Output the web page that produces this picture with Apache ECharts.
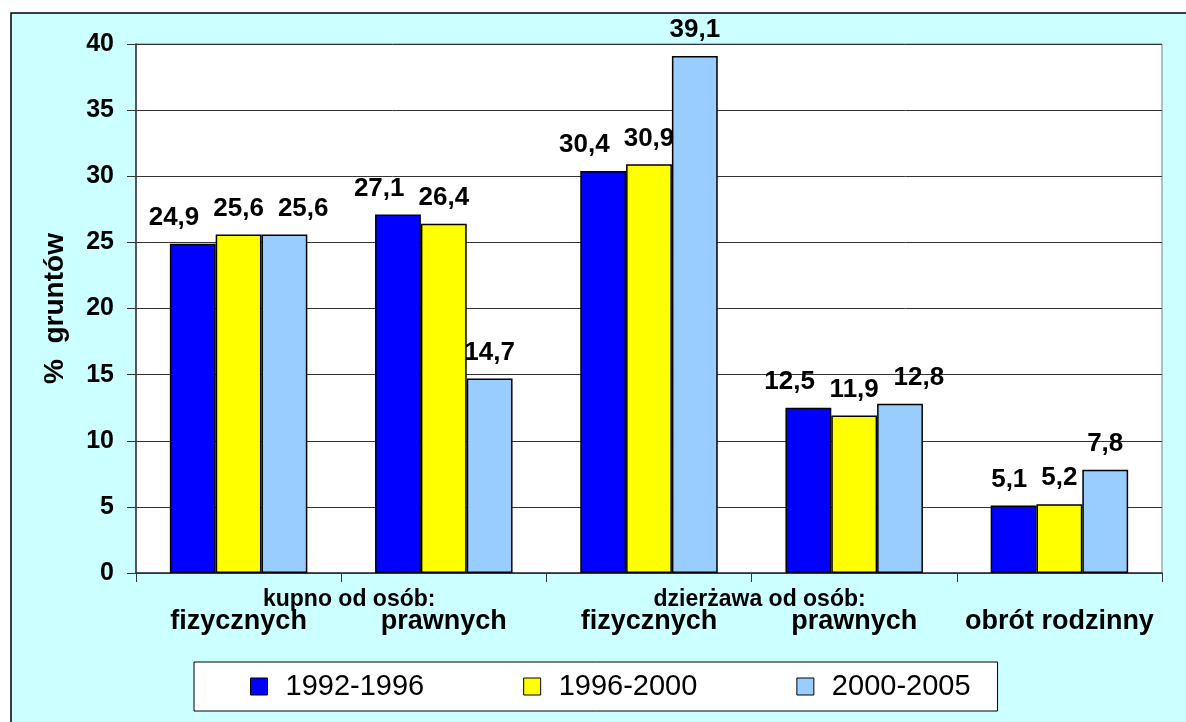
<!DOCTYPE html>
<html>
<head>
<meta charset="utf-8">
<script src="https://cdn.jsdelivr.net/npm/echarts@6/dist/echarts.min.js"></script>
<style>
  html, body { margin: 0; padding: 0; background: #fff; }
  #chart { width: 1186px; height: 722px; }
</style>
</head>
<body>
<div id="chart"></div>
<script>
// data
const categories = ['fizycznych', 'prawnych', 'fizycznych', 'prawnych', 'obrót rodzinny']
const groupLabels = ['kupno od osób:', 'dzierżawa od osób:']
const groupAfter = [0, 2] // group label sits between category i and i+1
const seriesNames = ['1992-1996', '1996-2000', '2000-2005']
const s1992 = [24.9, 27.1, 30.4, 12.5, 5.1]
const s1996 = [25.6, 26.4, 30.9, 11.9, 5.2]
const s2000 = [25.6, 14.7, 39.1, 12.8, 7.8]
const yTicks = [0, 5, 10, 15, 20, 25, 30, 35, 40]

const colors = ['#0000FF', '#FFFF00', '#99CCFF']
const FONT = '"Liberation Sans", Arial, sans-serif'
const LABEL_DIST = 13

const chart = echarts.init(document.getElementById('chart'))

const fmt = p => String(p.value).replace('.', ',')

// push an outer label sideways when it would collide with the middle bar's label
function sideLabel(middle, dir) {
  return params => {
    const r = params.rect
    const lr = params.labelRect
    const midTop = chart.convertToPixel({ yAxisIndex: 0 }, middle[params.dataIndex]) - LABEL_DIST
    const overlapY = lr.y < midTop && lr.y + lr.height > midTop - lr.height
    if (!overlapY) return {}
    const need = lr.width + 14 - r.width
    return need > 0 ? { dx: dir * need } : {}
  }
}

function barSeries(name, data, color, layout) {
  return {
    name,
    type: 'bar',
    data,
    barGap: 0,
    barCategoryGap: '33%',
    itemStyle: { color, borderColor: '#000', borderWidth: 1.5 },
    label: {
      show: true,
      position: 'top',
      distance: LABEL_DIST,
      formatter: fmt,
      color: '#000',
      fontFamily: FONT,
      fontWeight: 'bold',
      fontSize: 26,
    },
    labelLayout: layout,
  }
}

chart.setOption({
  backgroundColor: '#fff',
  animation: false,
  textStyle: { fontFamily: FONT },
  graphic: [{
    id: 'bg',
    type: 'rect',
    z: -10,
    shape: { x: 11, y: 13, width: 1300, height: 800 },
    style: { fill: '#CCFFFF', stroke: '#000', lineWidth: 1.5 },
  }],
  grid: {
    left: 136, right: 24, top: 44, bottom: 149,
    show: true,
    backgroundColor: '#fff',
    borderColor: '#808080',
    borderWidth: 1,
  },
  legend: {
    data: seriesNames,
    left: 194,
    top: 662,
    orient: 'horizontal',
    backgroundColor: '#fff',
    borderColor: '#000',
    borderWidth: 1,
    borderRadius: 0,
    padding: [10, 27, 10, 56],
    itemGap: 99,
    itemWidth: 17,
    itemHeight: 17,
    icon: 'rect',
    itemStyle: { borderColor: '#000', borderWidth: 1 },
    textStyle: {
      fontFamily: FONT, fontSize: 29, color: '#000',
      padding: [0, 0, 0, 13],
    },
  },
  xAxis: {
    type: 'category',
    data: categories,
    axisLine: { lineStyle: { color: '#333', width: 1.5 } },
    axisTick: { show: true, length: 9, lineStyle: { color: '#333' } },
    axisLabel: {
      interval: 0,
      margin: 35,
      color: '#000',
      fontFamily: FONT,
      fontWeight: 'bold',
      fontSize: 27,
    },
  },
  yAxis: {
    type: 'value',
    min: yTicks[0],
    max: yTicks[yTicks.length - 1],
    interval: yTicks[1] - yTicks[0],
    name: '%  gruntów',
    nameLocation: 'middle',
    nameGap: 67,
    nameRotate: 90,
    nameTextStyle: { color: '#000', fontFamily: FONT, fontWeight: 'bold', fontSize: 28 },
    axisLine: { show: true, lineStyle: { color: '#333', width: 1.5 } },
    axisTick: { show: true, length: 9, lineStyle: { color: '#333' } },
    axisLabel: {
      margin: 22,
      color: '#000',
      fontFamily: FONT,
      fontWeight: 'bold',
      fontSize: 25,
    },
    splitLine: { lineStyle: { color: '#333', width: 1 } },
  },
  series: [
    barSeries(seriesNames[0], s1992, colors[0], sideLabel(s1996, -1)),
    barSeries(seriesNames[1], s1996, colors[1]),
    barSeries(seriesNames[2], s2000, colors[2], sideLabel(s1996, 1)),
  ],
})

// group captions ("kupno od osób:" ...) centred on the boundary between two categories
const yBase = chart.convertToPixel({ yAxisIndex: 0 }, 0)
const captions = groupLabels.map((txt, i) => {
  const a = chart.convertToPixel({ xAxisIndex: 0 }, groupAfter[i])
  const b = chart.convertToPixel({ xAxisIndex: 0 }, groupAfter[i] + 1)
  return {
    id: 'cap' + i,
    type: 'text',
    x: (a + b) / 2 + 8,
    y: yBase + 27,
    style: {
      text: txt,
      fill: '#000',
      font: 'bold 23px ' + FONT,
      align: 'center',
      verticalAlign: 'middle',
    },
  }
})
chart.setOption({ graphic: captions })
</script>
</body>
</html>
